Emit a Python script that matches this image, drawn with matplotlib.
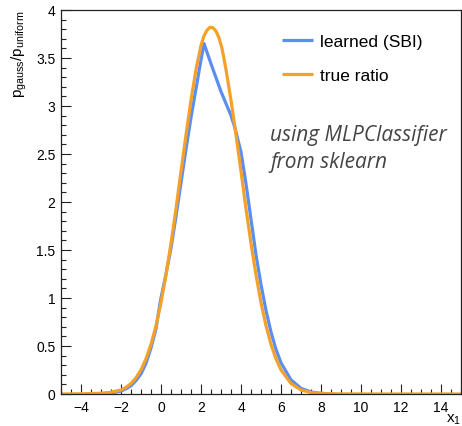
import matplotlib

matplotlib.use("Agg")
import matplotlib.pyplot as plt
from matplotlib.ticker import MultipleLocator, FuncFormatter

# true ratio p_gauss / p_uniform
x_true = [-5, -4, -3, -2.5, -2, -1.75, -1.5, -1.25, -1, -0.75, -0.5, -0.25, 0, 0.25,
          0.5, 0.75, 1, 1.25, 1.5, 1.75, 2, 2.15, 2.3, 2.45, 2.6, 2.75, 2.9, 3.05, 3.25,
          3.5, 3.75, 4, 4.25, 4.5, 4.75, 5, 5.25, 5.5, 5.75, 6, 6.5, 7, 7.5, 8, 9, 11,
          13, 15]
y_true = [0.0, 0.002, 0.008, 0.018, 0.042, 0.069, 0.109, 0.168, 0.251, 0.366, 0.517,
          0.711, 0.952, 1.24, 1.57, 1.93, 2.32, 2.70, 3.06, 3.38, 3.63, 3.73, 3.79,
          3.82, 3.815, 3.78, 3.71, 3.60, 3.38, 3.06, 2.70, 2.32, 1.93, 1.57, 1.24,
          0.952, 0.711, 0.517, 0.366, 0.251, 0.109, 0.042, 0.015, 0.005, 0.001, 0.0,
          0.0, 0.0]

# learned ratio from the classifier
x_sbi = [-3.2, -3, -2.5, -2, -1.75, -1.5, -1.25, -1, -0.75, -0.5, -0.25, -0.1, 0.0,
         0.25, 0.5, 0.75, 1, 1.25, 1.5, 1.75, 2, 2.15, 2.5, 3, 3.5, 3.7, 4, 4.25,
         4.5, 4.75, 5, 5.25, 5.5, 5.75, 6, 6.5, 7, 7.5, 8, 8.4]
y_sbi = [0.0, 0.003, 0.01, 0.03, 0.055, 0.085, 0.14, 0.21, 0.32, 0.48, 0.68, 0.88,
         1.0, 1.25, 1.52, 1.85, 2.2, 2.55, 2.88, 3.18, 3.48, 3.65, 3.44, 3.15, 2.9,
         2.77, 2.52, 2.19, 1.82, 1.45, 1.14, 0.87, 0.645, 0.464, 0.325, 0.147, 0.059,
         0.021, 0.007, 0.002]

labels = ["learned (SBI)", "true ratio"]
colors = ["#5a8ef0", "#f5a02a"]

plt.rcParams["font.family"] = ["Liberation Sans", "DejaVu Sans"]
plt.rcParams["mathtext.default"] = "regular"

fig = plt.figure(figsize=(4.62, 4.27), dpi=100)
ax = fig.add_axes([61 / 462, 1 - 395 / 427, 400 / 462, 384 / 427])

ax.plot(x_sbi, y_sbi, color=colors[0], lw=2.3, label=labels[0], solid_capstyle="butt")
ax.plot(x_true, y_true, color=colors[1], lw=2.3, label=labels[1], solid_capstyle="butt")

ax.set_xlim(-5, 15)
ax.set_ylim(0, 4)
ax.xaxis.set_major_locator(MultipleLocator(2))
ax.xaxis.set_minor_locator(MultipleLocator(0.5))
ax.yaxis.set_major_locator(MultipleLocator(0.5))
ax.yaxis.set_minor_locator(MultipleLocator(0.1))
ax.yaxis.set_major_formatter(FuncFormatter(lambda v, p: f"{v:g}"))
ax.xaxis.set_major_formatter(FuncFormatter(lambda v, p: f"{v:g}".replace("-", "\u2212")))
ax.tick_params(which="both", direction="in", top=False, right=False, labelsize=10,
               color="#222222")
ax.tick_params(which="major", length=7.5, width=0.8)
ax.tick_params(which="minor", length=3.8, width=0.8)
ax.tick_params(axis="y", pad=4)
ax.tick_params(axis="x", pad=4)
for s in ax.spines.values():
    s.set_linewidth(0.9)
    s.set_color("#222222")

ax.set_ylabel(r"p$_{gauss}$/p$_{uniform}$", fontsize=11, loc="top")
ax.yaxis.set_label_coords(-0.08, 1.0)
ax.set_xlabel(r"x$_{1}$", fontsize=11, loc="right")
ax.xaxis.set_label_coords(1.0, -0.045)

ax.legend(loc="upper left", bbox_to_anchor=(0.535, 0.957), frameon=False, fontsize=12.5,
          handlelength=1.8, handletextpad=0.4, labelspacing=1.12, borderaxespad=0)

ax.text(0.523, 0.64, "using MLPClassifier\nfrom sklearn", transform=ax.transAxes,
        fontsize=15, family="Open Sans", style="italic", color="#444444",
        ha="left", va="center", linespacing=1.35)

fig.savefig("out.png", dpi=100)
